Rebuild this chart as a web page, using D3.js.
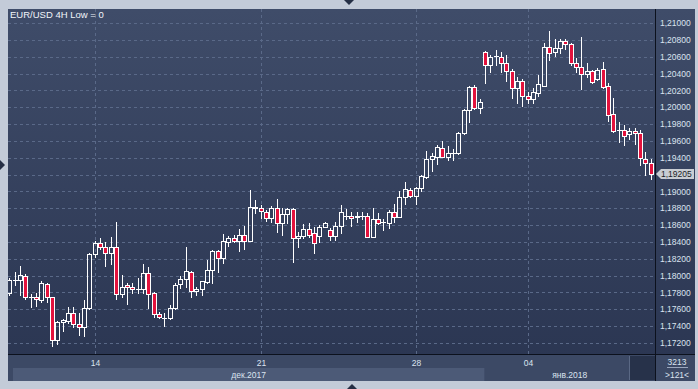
<!DOCTYPE html>
<meta charset="UTF-8">
<script src="https://cdnjs.cloudflare.com/ajax/libs/d3/7.4.4/d3.min.js"></script>
<style>
    body { margin: 0; background: #c3cbd8; }
    svg { display: block; }
</style>
<svg id="chart" width="698" height="389"></svg>
<script>
    // EUR/USD 4H, 121 candles
    let opens = [
        1.17789, 1.17950, 1.17947, 1.17998, 1.17748, 1.17741, 1.17709, 1.17899, 1.17741, 1.17234,
        1.17444, 1.17463, 1.17551, 1.17421, 1.17392, 1.17611, 1.18252, 1.18390, 1.18335, 1.18264,
        1.18335, 1.17777, 1.17884, 1.17860, 1.17836, 1.17836, 1.18026, 1.17796, 1.17539, 1.17492,
        1.17492, 1.17611, 1.17896, 1.17955, 1.18038, 1.17816, 1.17836, 1.17927, 1.18066, 1.18291,
        1.18212, 1.18402, 1.18442, 1.18414, 1.18481, 1.18414, 1.18810, 1.18799, 1.18758, 1.18680,
        1.18799, 1.18628, 1.18727, 1.18787, 1.18442, 1.18473, 1.18549, 1.18502, 1.18470, 1.18580,
        1.18541, 1.18473, 1.18592, 1.18707, 1.18707, 1.18700, 1.18707, 1.18707, 1.18461, 1.18668,
        1.18639, 1.18628, 1.18751, 1.18699, 1.18929, 1.19016, 1.18945, 1.19036, 1.19174, 1.19381,
        1.19412, 1.19511, 1.19412, 1.19455, 1.19452, 1.19690, 1.19966, 1.20236, 1.19987, 1.20659,
        1.20501, 1.20605, 1.20600, 1.20521, 1.20433, 1.20231, 1.20311, 1.20136, 1.20094, 1.20165,
        1.20255, 1.20711, 1.20652, 1.20699, 1.20786, 1.20750, 1.20521, 1.20474, 1.20391, 1.20430,
        1.20335, 1.20450, 1.20252, 1.19915, 1.19725, 1.19729, 1.19678, 1.19717, 1.19690, 1.19384,
        1.19333
    ];
    let highs = [
        1.17971, 1.18045, 1.18113, 1.18018, 1.17781, 1.17789, 1.17931, 1.17908, 1.17748, 1.17456,
        1.17487, 1.17622, 1.17630, 1.17551, 1.17709, 1.18271, 1.18414, 1.18442, 1.18402, 1.18454,
        1.18639, 1.18006, 1.17908, 1.17908, 1.17967, 1.18137, 1.18098, 1.17804, 1.17570, 1.17558,
        1.17650, 1.17908, 1.17994, 1.18335, 1.18057, 1.17860, 1.17939, 1.18184, 1.18303, 1.18303,
        1.18493, 1.18470, 1.18481, 1.18549, 1.18588, 1.19016, 1.18897, 1.18838, 1.18778, 1.18826,
        1.18906, 1.18799, 1.18806, 1.18806, 1.18521, 1.18612, 1.18628, 1.18573, 1.18600, 1.18639,
        1.18561, 1.18639, 1.18838, 1.18787, 1.18751, 1.18751, 1.18758, 1.18739, 1.18799, 1.18739,
        1.18668, 1.18778, 1.18850, 1.19008, 1.19115, 1.19036, 1.19055, 1.19194, 1.19483, 1.19459,
        1.19551, 1.19598, 1.19539, 1.19500, 1.19709, 1.19975, 1.20252, 1.20263, 1.20094, 1.20667,
        1.20620, 1.20679, 1.20652, 1.20620, 1.20450, 1.20355, 1.20331, 1.20177, 1.20224, 1.20382,
        1.20759, 1.20905, 1.20806, 1.20810, 1.20810, 1.20766, 1.20588, 1.20837, 1.20528, 1.20442,
        1.20462, 1.20540, 1.20284, 1.20113, 1.19820, 1.19788, 1.19749, 1.19756, 1.19729, 1.19464,
        1.19381
    ];
    let lows = [
        1.17769, 1.17887, 1.17769, 1.17718, 1.17630, 1.17638, 1.17689, 1.17689, 1.17166, 1.17187,
        1.17345, 1.17432, 1.17385, 1.17293, 1.17282, 1.17599, 1.18224, 1.18312, 1.18117, 1.18133,
        1.17718, 1.17741, 1.17658, 1.17789, 1.17789, 1.17789, 1.17611, 1.17504, 1.17492, 1.17404,
        1.17480, 1.17599, 1.17848, 1.17867, 1.17748, 1.17769, 1.17769, 1.17908, 1.17908, 1.18045,
        1.18152, 1.18354, 1.18395, 1.18295, 1.18315, 1.18405, 1.18739, 1.18680, 1.18651, 1.18639,
        1.18513, 1.18481, 1.18620, 1.18164, 1.18342, 1.18442, 1.18454, 1.18271, 1.18402, 1.18575,
        1.18422, 1.18422, 1.18502, 1.18668, 1.18588, 1.18632, 1.18668, 1.18455, 1.18455, 1.18612,
        1.18541, 1.18561, 1.18639, 1.18692, 1.18850, 1.18929, 1.18850, 1.19008, 1.19155, 1.19245,
        1.19325, 1.19404, 1.19372, 1.19372, 1.19444, 1.19681, 1.19827, 1.19975, 1.19934, 1.20284,
        1.20421, 1.20501, 1.20421, 1.20315, 1.20113, 1.20046, 1.20018, 1.20046, 1.20046, 1.20136,
        1.20251, 1.20560, 1.20612, 1.20647, 1.20691, 1.20501, 1.20414, 1.20212, 1.20362, 1.20284,
        1.20323, 1.20224, 1.19836, 1.19709, 1.19590, 1.19551, 1.19618, 1.19563, 1.19313, 1.19194,
        1.19143
    ];
    let closes = [
        1.17947, 1.17947, 1.18006, 1.17741, 1.17745, 1.17718, 1.17908, 1.17748, 1.17234, 1.17444,
        1.17472, 1.17551, 1.17421, 1.17392, 1.17611, 1.18256, 1.18390, 1.18335, 1.18264, 1.18335,
        1.17777, 1.17867, 1.17860, 1.17836, 1.17840, 1.18026, 1.17777, 1.17539, 1.17504, 1.17495,
        1.17611, 1.17887, 1.17955, 1.18054, 1.17816, 1.17840, 1.17935, 1.18066, 1.18291, 1.18212,
        1.18410, 1.18442, 1.18414, 1.18481, 1.18414, 1.18810, 1.18805, 1.18767, 1.18680, 1.18799,
        1.18628, 1.18731, 1.18787, 1.18442, 1.18473, 1.18549, 1.18481, 1.18383, 1.18573, 1.18620,
        1.18473, 1.18588, 1.18751, 1.18705, 1.18680, 1.18707, 1.18705, 1.18461, 1.18668, 1.18628,
        1.18635, 1.18751, 1.18699, 1.18929, 1.19024, 1.18945, 1.19036, 1.19182, 1.19381, 1.19420,
        1.19523, 1.19412, 1.19452, 1.19459, 1.19690, 1.19966, 1.20236, 1.19987, 1.20058, 1.20501,
        1.20600, 1.20612, 1.20521, 1.20433, 1.20231, 1.20311, 1.20136, 1.20094, 1.20177, 1.20272,
        1.20711, 1.20640, 1.20699, 1.20786, 1.20747, 1.20528, 1.20474, 1.20391, 1.20430, 1.20296,
        1.20442, 1.20243, 1.19907, 1.19721, 1.19729, 1.19661, 1.19717, 1.19690, 1.19393, 1.19333,
        1.19205
    ];

    let yTicks = [1.172, 1.174, 1.176, 1.178, 1.180, 1.182, 1.184, 1.186, 1.188, 1.190,
        1.192, 1.194, 1.196, 1.198, 1.200, 1.202, 1.204, 1.206, 1.208, 1.210];
    let dayIdx = [16, 47, 76, 97];
    let dayLabels = ["14", "21", "28", "04"];
    let monthIdx = [0, 89];
    let monthLabels = ["дек.2017", "янв.2018"];
    let title = "EUR/USD 4H Low = 0";
    let barCount = "3213";
    let visibleCount = ">121<";

    let svg = d3.select("svg"),
        width = +svg.attr("width"),
        height = +svg.attr("height");

    let pLeft = 8, pTop = 9, plotRight = 655, plotBottom = 354, panelRight = 695, panelBottom = 381;
    let font = "'Liberation Sans', Arial, sans-serif";
    let labelColor = "#dbe3ef";

    let n = closes.length;
    let x = d3.scaleBand()
        .domain(d3.range(n))
        .range([6.6, 653.4]);
    let xc = function (i) { return Math.round(x(i) + x.bandwidth() / 2); };
    let y = d3.scaleLinear()
        .domain([1.172, 1.21])
        .range([342.9, 23]);
    let fmt = function (v) { return d3.format(".5f")(v).replace(".", ","); };

    let defs = svg.append("defs");
    let grad = defs.append("linearGradient")
        .attr("id", "bg")
        .attr("x1", 0).attr("y1", 0).attr("x2", 0).attr("y2", 1);
    grad.append("stop").attr("offset", "0%").attr("stop-color", "#3f4c69");
    grad.append("stop").attr("offset", "100%").attr("stop-color", "#2a3551");
    defs.append("clipPath").attr("id", "plotclip")
        .append("rect")
        .attr("x", pLeft).attr("y", pTop)
        .attr("width", plotRight - pLeft).attr("height", plotBottom - pTop);

    // panel
    svg.append("rect")
        .attr("x", pLeft).attr("y", pTop)
        .attr("width", panelRight - pLeft).attr("height", panelBottom - pTop)
        .style("fill", "url(#bg)");

    // bottom axis strip
    svg.append("rect")
        .attr("x", pLeft).attr("y", plotBottom + 1)
        .attr("width", panelRight - pLeft).attr("height", panelBottom - plotBottom - 1)
        .style("fill", "#3c4965");
    svg.append("rect")
        .attr("x", pLeft + 5).attr("y", 368)
        .attr("width", x(monthIdx[1]) + 2 - pLeft - 5).attr("height", 13)
        .style("fill", "#4c5a77");
    svg.append("rect")
        .attr("x", 630).attr("y", 356)
        .attr("width", 25).attr("height", 24)
        .style("fill", "#27324a");
    svg.append("line")
        .attr("x1", 629.5).attr("x2", 629.5).attr("y1", 356).attr("y2", 380)
        .style("stroke", "#5a6884");

    // grid
    let grid = svg.append("g").style("stroke", "#5a6988").style("stroke-dasharray", "3,3");
    grid.selectAll("line.h")
        .data(yTicks)
        .enter().append("line")
        .attr("x1", pLeft).attr("x2", plotRight)
        .attr("y1", function (d) { return Math.round(y(d)) + 0.5; })
        .attr("y2", function (d) { return Math.round(y(d)) + 0.5; });
    grid.selectAll("line.v")
        .data(dayIdx)
        .enter().append("line")
        .attr("x1", function (d) { return xc(d) + 0.5; })
        .attr("x2", function (d) { return xc(d) + 0.5; })
        .attr("y1", pTop).attr("y2", plotBottom);

    // candles
    let candles = svg.append("g").attr("clip-path", "url(#plotclip)");
    let item = candles.selectAll("g")
        .data(d3.range(n))
        .enter().append("g");
    item.append("line")
        .attr("x1", function (i) { return xc(i) + 0.5; })
        .attr("x2", function (i) { return xc(i) + 0.5; })
        .attr("y1", function (i) { return Math.round(y(highs[i])); })
        .attr("y2", function (i) { return Math.round(y(Math.max(opens[i], closes[i]))); })
        .style("stroke", "#fff");
    item.append("line")
        .attr("x1", function (i) { return xc(i) + 0.5; })
        .attr("x2", function (i) { return xc(i) + 0.5; })
        .attr("y1", function (i) { return Math.round(y(Math.min(opens[i], closes[i]))); })
        .attr("y2", function (i) { return Math.round(y(lows[i])) + 1; })
        .style("stroke", "#fff");
    item.append("rect")
        .attr("x", function (i) { return xc(i) - 1.5; })
        .attr("y", function (i) { return Math.round(y(Math.max(opens[i], closes[i]))) + 0.5; })
        .attr("width", 4)
        .attr("height", function (i) {
            let t = Math.round(y(Math.max(opens[i], closes[i])));
            let b = Math.round(y(Math.min(opens[i], closes[i])));
            return Math.max(0.01, b - t);
        })
        .style("fill", function (i) { return closes[i] < opens[i] ? "#e3123d" : "none"; })
        .style("stroke", "#fff")
        .style("stroke-width", 1);

    // frame lines
    svg.append("line")
        .attr("x1", plotRight + 0.5).attr("x2", plotRight + 0.5)
        .attr("y1", pTop).attr("y2", panelBottom)
        .style("stroke", "#0c111d");
    svg.append("line")
        .attr("x1", pLeft).attr("x2", panelRight)
        .attr("y1", plotBottom + 0.5).attr("y2", plotBottom + 0.5)
        .style("stroke", "#0c111d");

    // right price axis
    let yAxis = d3.axisRight(y)
        .tickValues(yTicks)
        .tickSize(0)
        .tickPadding(0)
        .tickFormat(fmt);
    let ya = svg.append("g")
        .attr("transform", "translate(660,0)")
        .call(yAxis);
    ya.select(".domain").remove();
    ya.selectAll("text")
        .style("font-family", font)
        .style("font-size", "8.5px")
        .style("fill", labelColor);

    // last price tag
    let last = closes[n - 1];
    let ly = y(last);
    svg.append("path")
        .attr("d", "M656," + ly + " L661," + (ly - 5) + " L694," + (ly - 5) + " L694," + (ly + 5) + " L661," + (ly + 5) + " Z")
        .style("fill", "#c9cdd3");
    svg.append("text")
        .attr("x", 661).attr("y", ly)
        .attr("dy", "0.34em")
        .style("font-family", font)
        .style("font-size", "8.5px")
        .style("fill", "#1b1f27")
        .text(fmt(last));

    // bottom date axis
    svg.selectAll("text.day")
        .data(dayIdx)
        .enter().append("text")
        .attr("x", function (d) { return xc(d) + 0.5; })
        .attr("y", 366)
        .style("font-family", font)
        .style("font-size", "8.5px")
        .style("text-anchor", "middle")
        .style("fill", labelColor)
        .text(function (d, i) { return dayLabels[i]; });
    let monthEdges = [pLeft + 5, x(monthIdx[1]) + 2, plotRight];
    svg.selectAll("text.month")
        .data(monthLabels)
        .enter().append("text")
        .attr("x", function (d, i) { return (monthEdges[i] + monthEdges[i + 1]) / 2; })
        .attr("y", 377.5)
        .style("font-family", font)
        .style("font-size", "8.5px")
        .style("text-anchor", "middle")
        .style("fill", labelColor)
        .text(function (d) { return d; });

    svg.append("text")
        .attr("x", 677).attr("y", 365)
        .style("font-family", font).style("font-size", "8.5px")
        .style("text-anchor", "middle").style("fill", labelColor)
        .text(barCount);
    svg.append("line")
        .attr("x1", 667).attr("x2", 688).attr("y1", 367.5).attr("y2", 367.5)
        .style("stroke", "#9aa6bc");
    svg.append("text")
        .attr("x", 677).attr("y", 377.5)
        .style("font-family", font).style("font-size", "8.5px")
        .style("text-anchor", "middle").style("fill", labelColor)
        .text(visibleCount);

    // title
    svg.append("text")
        .attr("x", 10).attr("y", 18)
        .style("font-family", font)
        .style("font-size", "9.5px")
        .style("fill", "#f2f5fa")
        .text(title);

    // scroll markers
    let marks = svg.append("g").style("fill", "#252f45");
    marks.append("path").attr("d", "M344,0 L354,0 L349,5 Z");
    marks.append("path").attr("d", "M347,389 L357,389 L352,384 Z");
    marks.append("path").attr("d", "M0,160 L0,170 L5,165 Z");
</script>
